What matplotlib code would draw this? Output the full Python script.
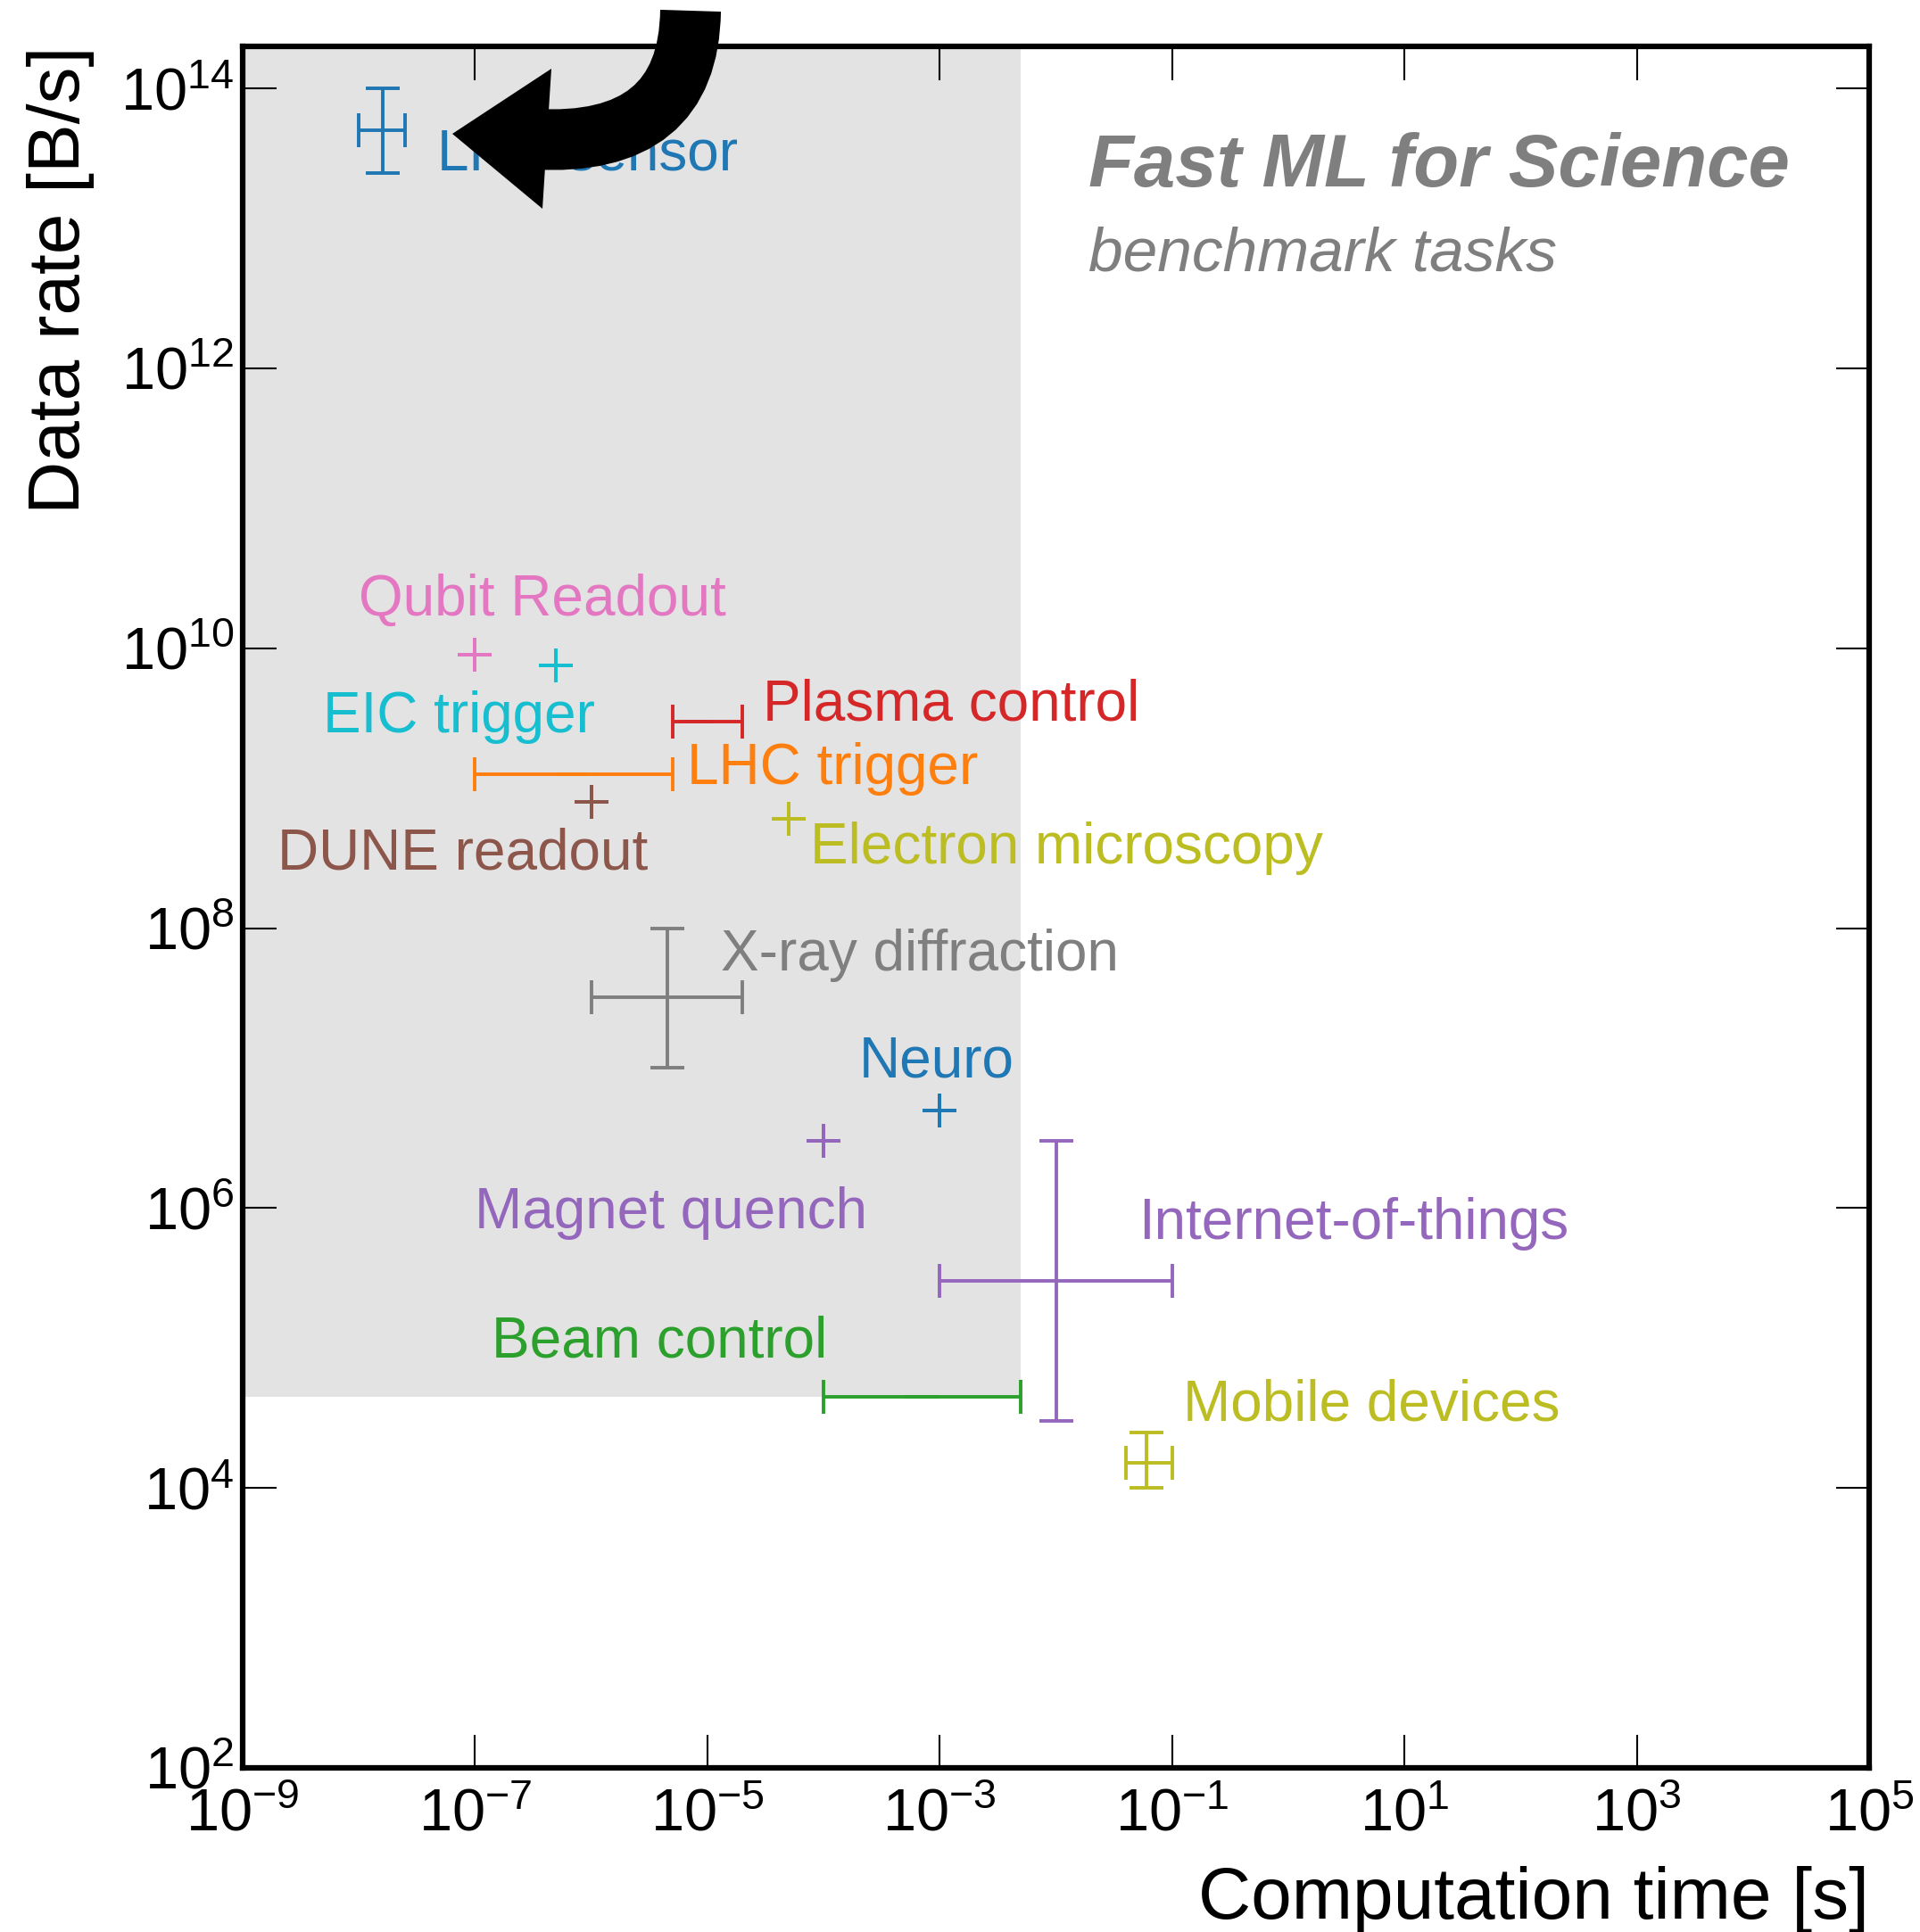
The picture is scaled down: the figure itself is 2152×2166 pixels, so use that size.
import matplotlib
matplotlib.use('Agg')
import matplotlib.pyplot as plt
from matplotlib.patches import PathPatch, Polygon
from matplotlib.path import Path
import numpy as np

plt.rcParams['font.family'] = ['Liberation Sans', 'DejaVu Sans']
plt.rcParams['mathtext.fontset'] = 'custom'
plt.rcParams['mathtext.rm'] = 'Liberation Sans'
plt.rcParams['mathtext.it'] = 'Liberation Sans:italic'
plt.rcParams['mathtext.bf'] = 'Liberation Sans:bold'

######################################
### DATA #############################
######################################
tasks = ['LHC sensor', 'Qubit Readout', 'EIC trigger', 'Plasma control', 'LHC trigger',
         'DUNE readout', 'Electron microscopy', 'X-ray diffraction', 'Neuro',
         'Magnet quench', 'Internet-of-things', 'Beam control', 'Mobile devices']
comp_time = [1.6e-8, 1e-7, 5e-7, 8e-6, 7e-7, 1e-6, 5e-5, 4.5e-6, 1e-3, 1e-4, 1e-2, 7e-4, 6e-2]
time_lo   = [1e-8, 1e-7, 5e-7, 5e-6, 1e-7, 1e-6, 5e-5, 1e-6, 1e-3, 1e-4, 1e-3, 1e-4, 4e-2]
time_hi   = [2.5e-8, 1e-7, 5e-7, 2e-5, 5e-6, 1e-6, 5e-5, 2e-5, 1e-3, 1e-4, 1e-1, 5e-3, 1e-1]
data_rate = [5e13, 9e9, 7.5e9, 3e9, 1.25e9, 8e8, 6e8, 3.2e7, 5e6, 3e6, 3e5, 4.5e4, 1.5e4]
rate_lo   = [2.5e13, 9e9, 7.5e9, 3e9, 1.25e9, 8e8, 6e8, 1e7, 5e6, 3e6, 3e4, 4.5e4, 1e4]
rate_hi   = [1e14, 9e9, 7.5e9, 3e9, 1.25e9, 8e8, 6e8, 1e8, 5e6, 3e6, 3e6, 4.5e4, 2.5e4]

# fast region (shaded)
fast_time_max = 5e-3
fast_rate_min = 4.5e4

x_ticks = [1e-9, 1e-7, 1e-5, 1e-3, 1e-1, 1e1, 1e3, 1e5]
x_ticklabels = [r'$10^{-9}$', r'$10^{-7}$', r'$10^{-5}$', r'$10^{-3}$', r'$10^{-1}$',
                r'$10^{1}$', r'$10^{3}$', r'$10^{5}$']
y_ticks = [1e2, 1e4, 1e6, 1e8, 1e10, 1e12, 1e14]
y_ticklabels = [r'$10^{2}$', r'$10^{4}$', r'$10^{6}$', r'$10^{8}$', r'$10^{10}$',
                r'$10^{12}$', r'$10^{14}$']

# styles
colors = ['#1f77b4', '#e377c2', '#17becf', '#d62728', '#ff7f0e', '#8c564b', '#bcbd22',
          '#7f7f7f', '#1f77b4', '#9467bd', '#9467bd', '#2ca02c', '#bcbd22']
label_pos = [(4.7e-8, 3.3e13), (1e-8, 2.2e10), (4.9e-9, 3.2e9), (3e-5, 3.9e9),
             (6.7e-6, 1.38e9), (2e-9, 3.4e8), (7.6e-5, 3.7e8), (1.3e-5, 6.4e7),
             (2e-4, 1.1e7), (9.9e-8, 9.2e5), (5.1e-2, 7.7e5), (1.4e-7, 1.1e5),
             (1.23e-1, 3.9e4)]

W, H = 2152, 2166


def fpx(x, y):
    # figure pixel (from top-left) -> figure fraction
    return (x / W, 1 - y / H)


######################################
### PLOT #############################
######################################
fig = plt.figure(figsize=(W / 100, H / 100), dpi=100)
ax = fig.add_axes([0.1264, 0.085, 0.8472, 0.891])
ax.set_xscale('log')
ax.set_yscale('log')
ax.set_xlim(1e-9, 1e5)
ax.set_ylim(1e2, 2e14)

ax.fill_between([1e-9, fast_time_max], fast_rate_min, 2e14, color='#e3e3e3', lw=0, zorder=0)

for i, name in enumerate(tasks):
    x = comp_time[i]
    y = data_rate[i]
    xerr = [[x - time_lo[i]], [time_hi[i] - x]]
    yerr = [[y - rate_lo[i]], [rate_hi[i] - y]]
    ax.errorbar([x], [y], xerr=xerr, yerr=yerr, fmt='none', ecolor=colors[i],
                elinewidth=2.8, capsize=14, capthick=2.8, zorder=3)
    ax.text(label_pos[i][0], label_pos[i][1], name, color=colors[i], fontsize=46,
            ha='left', va='center', zorder=4)

ax.text(0.52, 0.93, 'Fast ML for Science', transform=ax.transAxes, fontsize=60,
        fontweight='bold', fontstyle='italic', color='#7f7f7f', ha='left', va='center')
ax.text(0.52, 0.879, 'benchmark tasks', transform=ax.transAxes, fontsize=50,
        fontstyle='italic', color='#7f7f7f', ha='left', va='center')

ax.set_xticks(x_ticks)
ax.set_xticklabels(x_ticklabels)
ax.set_yticks(y_ticks)
ax.set_yticklabels(y_ticklabels)
ax.minorticks_off()
ax.tick_params(which='major', direction='in', top=True, right=True, length=27,
               width=1.5, labelsize=48, pad=7)
ax.tick_params(axis='x', pad=16)
for sp in ax.spines.values():
    sp.set_linewidth(4.5)

ax.set_xlabel('Computation time [s]', fontsize=59, loc='right')
ax.set_ylabel('Data rate [B/s]', fontsize=59, loc='top')
ax.xaxis.set_label_coords(1.0, -0.057)
ax.yaxis.set_label_coords(-0.091, 1.0)

# big black curved arrow pointing at the LHC sensor point
body = Path([fpx(774, 12), fpx(772, 166), fpx(598, 156)],
            [Path.MOVETO, Path.CURVE3, Path.CURVE3])
fig.patches.append(PathPatch(body, transform=fig.transFigure, fill=False,
                             edgecolor='black', lw=49, capstyle='butt', zorder=10))
head = Polygon([fpx(507, 150), fpx(618, 77), fpx(608, 234)], closed=True,
               transform=fig.transFigure, facecolor='black', edgecolor='none', zorder=10)
fig.patches.append(head)

fig.savefig('out.png', dpi=100)
